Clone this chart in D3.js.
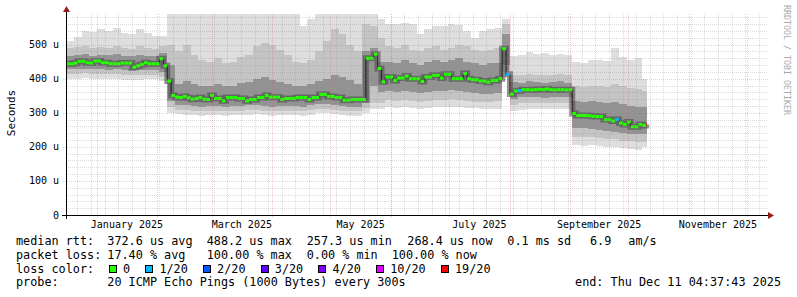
<!DOCTYPE html>
<html>
<head>
<meta charset="utf-8">
<script src="https://cdnjs.cloudflare.com/ajax/libs/d3/7.8.5/d3.min.js"></script>
<style>
body { margin: 0; background: #fff; }
text { font-family: "DejaVu Sans Mono", monospace; fill: #000; }
</style>
</head>
<body>
<svg class="smoke-graph"></svg>
<script>
END_TIME = new Date(2025, 11, 11, 4, 37, 43);
START_TIME = d3.timeHour.offset(END_TIME, -360 * 24);
DATA_END = new Date(2025, 9, 10, 12, 0, 0);
MEDIAN_STEP_DAYS = 2;
SMOKE_STEP_DAYS = 4;

Y_DOMAIN_END = 590;
Y_TICKS = [0, 100, 200, 300, 400, 500];
Y_TICK_LABELS = ["0", "100 u", "200 u", "300 u", "400 u", "500 u"];

// median rtt in us, one value per 2 days from the start of the graph
medianRtt = [
    444, 444, 446, 451, 451, 447, 446, 452, 452, 447,
    447, 444, 444, 444, 446, 446, 446, 434, 438, 442,
    447, 444, 444, 444, 459, 438, 393, 351, 346, 345,
    348, 344, 340, 342, 345, 340, 339, 351, 342, 342,
    335, 345, 345, 345, 342, 342, 335, 339, 339, 345,
    345, 351, 346, 346, 346, 339, 342, 342, 342, 345,
    345, 345, 339, 345, 345, 354, 354, 348, 348, 345,
    345, 337, 337, 339, 339, 339, 339, 460, 460, 472,
    430, 391, 405, 405, 395, 402, 402, 408, 400, 400,
    400, 392, 405, 405, 410, 410, 402, 413, 413, 400,
    400, 400, 415, 400, 397, 397, 393, 393, 390, 395,
    395, 400, 488, 413, 355, 364, 365, 368, 368, 367,
    368, 369, 368, 370, 368, 367, 368, 368, 367, 368,
    298, 292, 292, 292, 291, 290, 289, 289, 280, 280,
    276, 280, 270, 266, 273, 259, 259, 266, 263, 266
];
// samples with lost pings (index into medianRtt, lost of 20)
lossIndex = [113, 116, 141, 149];
lossCount = [1, 1, 1, 19];

// smoke, one value per 4 days
smokeMax = [
    512, 522, 540, 538, 545, 540, 548, 535, 532, 545, 535, 525, 525,
    592, 592, 592, 592, 592, 592, 592, 592, 592, 592, 592, 592, 592, 592, 592, 592, 592,
    555, 575, 592, 592, 592, 592, 592, 592,
    592, 592, 575,
    560, 562, 565, 560, 530, 545, 555, 555, 560, 558, 540, 520, 540, 545, 548,
    574,
    468, 470, 478, 472, 475, 470, 472, 470,
    450, 445, 455, 456, 452, 490, 465, 455, 460, 400
];
smokeHi2 = [
    490, 492, 495, 490, 493, 490, 495, 490, 488, 495, 490, 488, 495,
    500,
    480, 500, 470, 455, 450, 460, 445, 450, 465, 470, 495, 505, 500, 485, 470, 450, 445, 455, 480, 510, 545, 530, 500, 480,
    560, 555, 520,
    495, 490, 500, 485, 480, 490, 495, 485, 490, 500, 495, 485, 480, 485, 490,
    560,
    412, 410, 415, 412, 410, 412, 415, 410,
    380, 375, 378, 380, 375, 385, 378, 372, 370, 365
];
smokeHi3 = [
    468, 470, 472, 468, 470, 470, 472, 468, 466, 470, 468, 468, 475,
    440,
    385, 392, 385, 380, 378, 385, 378, 380, 388, 390, 400, 405, 395, 390, 385, 380, 378, 385, 392, 400, 410, 405, 395, 385,
    480, 490, 450,
    450, 445, 455, 445, 440, 450, 455, 450, 455, 460, 450, 445, 440, 445, 445,
    530,
    390, 388, 392, 390, 388, 390, 392, 388,
    335, 332, 335, 333, 328, 332, 325, 320, 318, 318
];
smokeLo3 = [
    428, 428, 430, 428, 428, 427, 428, 425, 424, 425, 426, 425, 420,
    335,
    322, 322, 320, 318, 320, 320, 318, 320, 320, 322, 322, 320, 318, 320, 320, 320, 318, 322, 325, 325, 322, 320, 318, 318,
    330, 380, 360,
    365, 362, 365, 360, 358, 362, 365, 365, 368, 365, 360, 358, 355, 355, 358,
    440,
    340, 345, 346, 345, 344, 345, 346, 345,
    255, 255, 252, 250, 248, 245, 240, 238, 238, 238
];
smokeLo2 = [
    414, 415, 416, 414, 413, 413, 414, 412, 410, 410, 412, 412, 405,
    318,
    308, 308, 306, 305, 306, 306, 305, 306, 306, 308, 308, 306, 305, 306, 306, 306, 305, 308, 310, 310, 308, 306, 305, 305,
    315, 330, 330,
    338, 335, 338, 335, 333, 335, 338, 338, 340, 338, 335, 333, 332, 332, 335,
    420,
    322, 328, 330, 328, 328, 330, 330, 328,
    230, 228, 228, 226, 224, 222, 218, 216, 214, 215
];
smokeMin = [
    400, 400, 403, 400, 398, 398, 400, 397, 395, 395, 398, 398, 392,
    300,
    296, 295, 293, 292, 293, 294, 292, 293, 293, 295, 296, 294, 292, 293, 294, 293, 292, 295, 298, 298, 296, 294, 292, 292,
    300, 310, 312,
    316, 315, 318, 314, 312, 315, 316, 318, 318, 316, 315, 313, 312, 312, 312,
    405,
    304, 308, 312, 310, 310, 312, 312, 310,
    205, 204, 205, 202, 200, 200, 196, 195, 192, 200
];

LOSS_LABELS = ["0", "1/20", "2/20", "3/20", "4/20", "10/20", "19/20"];
LOSS_THRESHOLDS = [0, 1, 2, 3, 4, 10, 19];
LOSS_COLORS = ["#26ff00", "#00b8ff", "#0059ff", "#5e00ff", "#7e00ff", "#dd00ff", "#ff0000"];

rttStats = ["372.6 us avg", "488.2 us max", "257.3 us min", "268.4 us now", "0.1 ms sd", "6.9", "am/s"];
lossStats = ["17.40 % avg", "100.00 % max", "0.00 % min", "100.00 % now"];
PROBE_TEXT = "20 ICMP Echo Pings (1000 Bytes) every 300s";
END_TEXT = "end: Thu Dec 11 04:37:43 2025";

CHART = {left: 66, right: 767, top: 14, bottom: 215};
SMOKE_COLORS = ["#dedede", "#c4c4c4", "#939393"];
MINOR_GRID = "rgba(140,140,140,0.3)";
MAJOR_GRID = "rgba(220,80,80,0.3)";

function buildChart() {
    svg = d3.select(".smoke-graph").attr("width", 797).attr("height", 297);
    xScale = d3.scaleTime().domain([START_TIME, END_TIME]).range([CHART.left, CHART.right]);
    yScale = d3.scaleLinear().domain([0, Y_DOMAIN_END]).range([CHART.bottom, CHART.top]);

    svg.append("clipPath").attr("id", "plot-clip")
        .append("rect")
        .attr("x", CHART.left).attr("y", CHART.top)
        .attr("width", CHART.right - CHART.left).attr("height", CHART.bottom - CHART.top);

    addSmoke();
    addMedian();
    addGrid();
    addAxes();
    addLegend();
}

function stepDate(i, days) {
    return d3.timeHour.offset(START_TIME, i * days * 24);
}

function stepEnd(i, days) {
    var d = stepDate(i + 1, days);
    return d > DATA_END ? DATA_END : d;
}

function addSmoke() {
    var g = svg.append("g").attr("clip-path", "url(#plot-clip)").attr("shape-rendering", "crispEdges");
    var layers = [[smokeMin, smokeMax], [smokeLo2, smokeHi2], [smokeLo3, smokeHi3]];
    layers.forEach(function(pair, k) {
        g.append("g").selectAll("rect")
            .data(pair[0])
            .enter().append("rect")
            .attr("x", function(d, j) { return xScale(stepDate(j, SMOKE_STEP_DAYS)); })
            .attr("width", function(d, j) { return xScale(stepEnd(j, SMOKE_STEP_DAYS)) - xScale(stepDate(j, SMOKE_STEP_DAYS)); })
            .attr("y", function(d, j) { return yScale(pair[1][j]); })
            .attr("height", function(d, j) { return yScale(d) - yScale(pair[1][j]); })
            .attr("fill", SMOKE_COLORS[k]);
    });
}

function lossColor(count) {
    return LOSS_COLORS[d3.bisectRight(LOSS_THRESHOLDS, count) - 1];
}

function addMedian() {
    var g = svg.append("g").attr("clip-path", "url(#plot-clip)");
    var pts = medianRtt.map(function(v, i) { return {date: stepDate(i, MEDIAN_STEP_DAYS), end: stepEnd(i, MEDIAN_STEP_DAYS), value: v}; });
    var line = d3.line()
        .x(function(d) { return xScale(d.date); })
        .y(function(d) { return yScale(d.value); })
        .curve(d3.curveStepAfter);

    // darkest part of the smoke, hugging the median
    g.append("path")
        .datum(pts)
        .attr("fill", "none")
        .attr("stroke", "#4a4a4a")
        .attr("stroke-opacity", 0.6)
        .attr("stroke-width", 6)
        .attr("d", line);

    g.append("path")
        .datum(pts)
        .attr("fill", "none")
        .attr("stroke", "#202020")
        .attr("stroke-width", 1)
        .attr("d", line);

    g.selectAll(".med")
        .data(pts)
        .enter().append("line")
        .attr("class", "med")
        .attr("x1", function(d) { return xScale(d.date); })
        .attr("x2", function(d) { return xScale(d.end); })
        .attr("y1", function(d) { return yScale(d.value); })
        .attr("y2", function(d) { return yScale(d.value); })
        .attr("stroke", function(d, i) {
            var k = lossIndex.indexOf(i);
            return lossColor(k < 0 ? 0 : lossCount[k]);
        })
        .attr("stroke-width", 3);
}

function addGrid() {
    var g = svg.append("g").attr("shape-rendering", "crispEdges").attr("stroke-dasharray", "1,1");
    var minorY = d3.range(0, Y_DOMAIN_END, 20).filter(function(v) { return v % 100 != 0; });
    g.selectAll(".hminor").data(minorY).enter().append("line")
        .attr("x1", CHART.left).attr("x2", CHART.right + 1)
        .attr("y1", function(d) { return Math.round(yScale(d)) + 0.5; })
        .attr("y2", function(d) { return Math.round(yScale(d)) + 0.5; })
        .attr("stroke", MINOR_GRID);

    var weeks = d3.timeSunday.range(START_TIME, END_TIME);
    g.selectAll(".vminor").data(weeks).enter().append("line")
        .attr("x1", function(d) { return Math.round(xScale(d)) + 0.5; })
        .attr("x2", function(d) { return Math.round(xScale(d)) + 0.5; })
        .attr("y1", CHART.top).attr("y2", CHART.bottom)
        .attr("stroke", MINOR_GRID);

    g.selectAll(".hmajor").data(Y_TICKS.slice(1)).enter().append("line")
        .attr("x1", CHART.left - 3).attr("x2", CHART.right + 1)
        .attr("y1", function(d) { return Math.round(yScale(d)) + 0.5; })
        .attr("y2", function(d) { return Math.round(yScale(d)) + 0.5; })
        .attr("stroke", MAJOR_GRID);

    var months = d3.timeMonth.range(START_TIME, END_TIME);
    g.selectAll(".vmajor").data(months).enter().append("line")
        .attr("x1", function(d) { return Math.round(xScale(d)) + 0.5; })
        .attr("x2", function(d) { return Math.round(xScale(d)) + 0.5; })
        .attr("y1", CHART.top).attr("y2", CHART.bottom + 3)
        .attr("stroke", MAJOR_GRID);
}

function addAxes() {
    var g = svg.append("g").attr("shape-rendering", "crispEdges");
    g.append("line")
        .attr("x1", CHART.left - 4).attr("x2", CHART.right + 2)
        .attr("y1", CHART.bottom + 0.5).attr("y2", CHART.bottom + 0.5)
        .attr("stroke", "#000");
    g.append("line")
        .attr("x1", CHART.left + 0.5).attr("x2", CHART.left + 0.5)
        .attr("y1", CHART.top - 2).attr("y2", CHART.bottom + 4)
        .attr("stroke", "#000");

    svg.append("path")
        .attr("d", "M" + (CHART.right + 1) + "," + (CHART.bottom - 3) + "L" + (CHART.right + 7) + "," + (CHART.bottom + 0.5) + "L" + (CHART.right + 1) + "," + (CHART.bottom + 4) + "Z")
        .attr("fill", "#9a1a1a");
    svg.append("path")
        .attr("d", "M" + (CHART.left - 3) + "," + (CHART.top - 2) + "L" + (CHART.left + 0.5) + "," + (CHART.top - 8) + "L" + (CHART.left + 4) + "," + (CHART.top - 2) + "Z")
        .attr("fill", "#9a1a1a");

    svg.append("g").selectAll("text")
        .data(Y_TICKS)
        .enter().append("text")
        .attr("x", 59)
        .attr("y", function(d) { return yScale(d) + 3.5; })
        .attr("text-anchor", "end")
        .attr("font-size", "10px")
        .text(function(d, i) { return Y_TICK_LABELS[i]; });

    // month labels every second month, centred on the month
    var labelMonths = d3.timeMonth.every(2).range(d3.timeYear.floor(END_TIME), END_TIME);
    svg.append("g").selectAll("text")
        .data(labelMonths)
        .enter().append("text")
        .attr("x", function(d) { return (xScale(d) + xScale(d3.timeMonth.offset(d, 1))) / 2; })
        .attr("y", 228)
        .attr("text-anchor", "middle")
        .attr("font-size", "10px")
        .text(function(d) { return d3.timeFormat("%B %Y")(d); });

    svg.append("text")
        .attr("transform", "translate(15,113) rotate(-90)")
        .attr("text-anchor", "middle")
        .attr("font-size", "11px")
        .text("Seconds");

    svg.append("text")
        .attr("transform", "translate(784,5) rotate(90)")
        .attr("font-size", "8.3px")
        .style("fill", "#aaaaaa")
        .text("RRDTOOL / TOBI OETIKER");
}

function addLegend() {
    var g = svg.append("g").attr("font-size", "11.8px").attr("xml:space", "preserve");
    var rttX = [107.3, 206.7, 306.7, 407.3, 507.3, 590, 628.3];
    var lossX = [107.3, 206.7, 306.7, 391.7];

    g.append("text").attr("x", 16).attr("y", 245).text("median rtt:");
    rttStats.forEach(function(s, i) { g.append("text").attr("x", rttX[i]).attr("y", 245).text(s); });
    g.append("text").attr("x", 16).attr("y", 259).text("packet loss:");
    lossStats.forEach(function(s, i) { g.append("text").attr("x", lossX[i]).attr("y", 259).text(s); });
    g.append("text").attr("x", 16).attr("y", 272.5).text("loss color:");

    var bx = 108.7;
    LOSS_LABELS.forEach(function(label, i) {
        g.append("rect")
            .attr("x", bx + 0.5).attr("y", 265.5)
            .attr("width", 7).attr("height", 7)
            .attr("fill", LOSS_COLORS[i])
            .attr("stroke", "#000")
            .attr("shape-rendering", "crispEdges");
        g.append("text").attr("x", bx + 14.3).attr("y", 272.5).text(label);
        bx += 14.3 + label.length * 7.1 + 15;
    });

    g.append("text").attr("x", 16).attr("y", 286).text("probe:");
    g.append("text").attr("x", 107.3).attr("y", 286).text(PROBE_TEXT);
    g.append("text").attr("x", 781).attr("y", 286).attr("text-anchor", "end").text(END_TEXT);
}

buildChart();
</script>
</body>
</html>
